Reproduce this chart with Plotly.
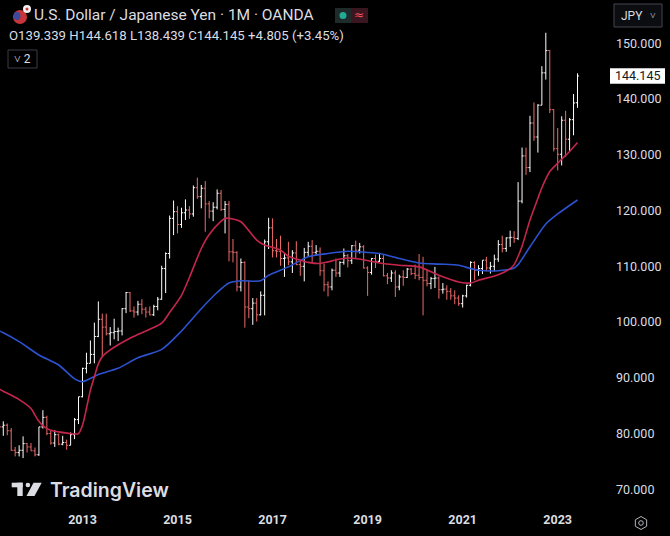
import pandas as pd
import plotly.graph_objects as go

# monthly bars, Apr 2011 .. Jun 2023 (USD/JPY, OANDA)
months = pd.period_range("2011-04", "2023-06", freq="M").strftime("%Y-%m").tolist()

opens = [
    83.1, 81.2, 81.5, 80.5, 77.0, 76.6, 77.0, 78.2, 77.6,
    76.9, 76.2, 81.2, 82.9, 80.0, 78.3, 79.8, 78.1, 78.4, 77.9, 79.8, 82.5,
    86.6, 91.7, 92.6, 94.2, 97.4, 100.5, 99.1, 97.9, 98.1, 98.3, 98.4, 102.4,
    105.3, 102.0, 101.8, 103.2, 102.3, 101.8, 101.3, 102.8, 104.1, 109.6, 112.3, 118.6,
    119.8, 117.5, 119.6, 120.1, 119.4, 124.1, 122.5, 124.0, 121.2, 119.9, 120.6, 123.1,
    120.2, 121.1, 112.6, 112.5, 106.3, 110.7, 102.7, 102.4, 103.4, 101.3, 104.8, 114.4,
    116.9, 112.8, 112.7, 111.4, 111.5, 110.8, 112.4, 110.3, 110.0, 112.5, 113.6, 112.5,
    112.7, 109.2, 106.7, 106.3, 109.3, 108.8, 110.7, 111.9, 111.0, 113.7, 112.9, 113.5,
    109.7, 108.9, 111.4, 110.9, 111.4, 108.3, 107.9, 108.8, 106.3, 108.1, 108.0, 109.5,
    108.7, 108.4, 108.0, 107.5, 106.9, 107.8, 107.9, 105.8, 105.9, 105.5, 104.7, 104.3,
    103.3, 104.7, 106.6, 110.7, 109.3, 109.6, 111.1, 109.7, 110.0, 111.3, 113.9, 113.2,
    115.1, 115.2, 115.0, 121.7, 129.8, 127.7, 135.7, 133.2, 138.9, 144.7, 148.7, 138.1,
    131.1, 130.1, 136.2, 132.8, 136.3, 139.339,
]
highs = [
    85.5, 82.2, 81.8, 81.0, 77.6, 77.9, 79.5, 78.3, 78.3,
    77.5, 81.2, 84.2, 83.2, 80.6, 80.6, 80.0, 79.6, 78.9, 80.2, 82.8, 86.6,
    91.8, 94.5, 96.7, 99.9, 103.7, 101.5, 101.5, 99.1, 100.6, 99.0, 102.5, 105.4,
    105.4, 102.8, 103.8, 104.1, 102.7, 102.8, 103.1, 104.5, 110.1, 112.5, 119.1, 121.8,
    120.8, 120.5, 122.0, 120.8, 124.5, 125.9, 124.6, 125.3, 121.7, 121.5, 123.8, 123.7,
    121.7, 121.7, 114.9, 112.7, 111.4, 110.9, 107.5, 104.3, 104.3, 105.5, 114.8, 118.7,
    118.6, 114.9, 115.5, 112.2, 114.4, 112.9, 114.5, 111.0, 113.3, 114.4, 114.7, 113.8,
    113.4, 110.5, 107.3, 109.6, 111.4, 110.9, 113.2, 112.2, 113.8, 114.6, 114.2, 113.8,
    110.0, 111.5, 112.1, 112.4, 112.0, 108.8, 109.3, 109.3, 108.5, 109.3, 109.7, 109.7,
    110.3, 112.2, 111.7, 109.4, 108.1, 109.9, 108.2, 107.0, 106.6, 106.1, 105.7, 104.8,
    104.9, 106.7, 110.9, 110.9, 110.2, 111.1, 111.7, 110.8, 112.1, 114.7, 115.5, 115.2,
    116.4, 116.3, 125.1, 131.3, 131.3, 137.0, 139.4, 139.1, 145.9, 151.9, 148.8, 138.2,
    134.8, 136.9, 137.9, 136.6, 140.9, 144.618,
]
lows = [
    81.3, 79.6, 79.7, 76.9, 75.9, 75.9, 75.6, 76.6, 76.9,
    75.9, 76.0, 80.9, 79.7, 78.0, 77.6, 77.9, 77.9, 77.1, 77.9, 79.0, 81.7,
    86.5, 90.8, 92.6, 92.6, 97.3, 93.8, 97.6, 95.8, 96.9, 96.6, 97.6, 101.6,
    101.8, 100.8, 101.2, 101.4, 100.8, 101.2, 101.1, 102.1, 104.0, 105.2, 111.4, 115.6,
    115.9, 116.9, 118.3, 118.5, 118.9, 122.1, 120.4, 116.2, 118.6, 118.1, 120.2, 119.9,
    115.9, 110.9, 110.7, 105.5, 105.5, 99.0, 100.7, 99.5, 100.1, 101.2, 101.2, 113.1,
    111.6, 111.6, 110.1, 108.1, 110.2, 108.8, 110.2, 108.3, 107.3, 111.7, 110.8, 111.9,
    108.3, 105.5, 104.6, 105.7, 108.1, 108.1, 110.3, 109.8, 110.4, 111.4, 112.3, 109.6,
    104.7, 108.5, 109.7, 110.8, 108.2, 106.8, 107.2, 104.5, 105.7, 106.5, 107.9, 108.4,
    107.7, 107.5, 101.2, 106.4, 105.9, 106.1, 104.2, 105.1, 104.0, 104.0, 103.2, 102.9,
    102.6, 104.4, 106.4, 107.5, 108.3, 108.6, 109.1, 108.7, 109.1, 110.8, 112.5, 112.6,
    113.5, 114.2, 114.7, 121.3, 126.4, 126.9, 132.5, 130.4, 138.9, 143.5, 137.5, 130.6,
    127.2, 128.1, 129.6, 130.6, 133.5, 138.439,
]
closes = [
    81.2, 81.5, 80.5, 77.0, 76.6, 77.0, 78.2, 77.6, 76.9,
    76.2, 81.2, 82.9, 80.0, 78.3, 79.8, 78.1, 78.4, 77.9, 79.8, 82.5, 86.6,
    91.7, 92.6, 94.2, 97.4, 100.5, 99.1, 97.9, 98.1, 98.3, 98.4, 102.4, 105.3,
    102.0, 101.8, 103.2, 102.3, 101.8, 101.3, 102.8, 104.1, 109.6, 112.3, 118.6, 119.8,
    117.5, 119.6, 120.1, 119.4, 124.1, 122.5, 124.0, 121.2, 119.9, 120.6, 123.1, 120.2,
    121.1, 112.6, 112.5, 106.3, 110.7, 102.7, 102.4, 103.4, 101.3, 104.8, 114.4, 116.9,
    112.8, 112.7, 111.4, 111.5, 110.8, 112.4, 110.3, 110.0, 112.5, 113.6, 112.5, 112.7,
    109.2, 106.7, 106.3, 109.3, 108.8, 110.7, 111.9, 111.0, 113.7, 112.9, 113.5, 109.7,
    108.9, 111.4, 110.9, 111.4, 108.3, 107.9, 108.8, 106.3, 108.1, 108.0, 109.5, 108.7,
    108.4, 108.0, 107.5, 106.9, 107.8, 107.9, 105.8, 105.9, 105.5, 104.7, 104.3, 103.3,
    104.7, 106.6, 110.7, 109.3, 109.6, 111.1, 109.7, 110.0, 111.3, 113.9, 113.2, 115.1,
    115.2, 115.0, 121.7, 129.8, 127.7, 135.7, 133.2, 138.9, 144.7, 148.7, 138.1, 131.1,
    130.1, 136.2, 132.8, 136.3, 139.3, 144.145,
]

# moving averages at these months
ma_red_months = [
    "2011-04", "2011-05", "2011-09", "2011-12", "2012-01", "2012-02", "2012-03",
    "2012-05", "2012-07", "2012-10", "2012-12", "2013-01", "2013-02", "2013-03",
    "2013-04", "2013-05", "2013-06", "2013-08", "2014-01", "2014-06", "2014-09",
    "2014-11", "2015-02", "2015-04", "2015-07", "2015-09", "2015-12", "2016-01",
    "2016-03", "2016-05", "2016-07", "2016-09", "2016-11", "2016-12", "2017-03",
    "2017-05", "2017-08", "2017-10", "2018-01", "2018-03", "2018-06", "2018-08",
    "2018-11", "2019-04", "2019-09", "2020-02", "2020-07", "2020-12", "2021-03",
    "2021-05", "2021-10", "2022-01", "2022-02", "2022-03", "2022-04", "2022-06",
    "2022-08", "2022-09", "2022-11", "2023-01", "2023-04", "2023-06",
]
ma_red_values = [
    88.0, 87.6, 86.1, 84.5, 83.3, 82.2, 81.4,
    80.6, 80.3, 80.0, 80.0, 81.5, 84.5, 87.8,
    90.2, 92.5, 93.8, 95.0, 97.1, 98.7, 99.8,
    101.7, 104.8, 108.0, 113.2, 115.7, 118.1, 118.6,
    118.5, 118.0, 116.4, 114.7, 113.8, 113.6, 112.9,
    111.8, 111.1, 110.7, 110.5, 110.8, 111.3, 111.5,
    111.3, 110.6, 110.2, 109.9, 108.4, 107.2, 107.0,
    107.5, 108.5, 109.6, 110.3, 111.8, 113.6, 118.3,
    122.2, 124.1, 127.0, 128.5, 130.6, 132.2,
]
ma_blue_months = [
    "2011-04", "2011-05", "2011-09", "2012-02", "2012-07", "2012-11", "2013-01",
    "2013-05", "2013-10", "2014-03", "2014-09", "2015-02", "2015-07", "2015-11",
    "2016-02", "2016-05", "2016-10", "2016-12", "2017-05", "2017-10", "2018-03",
    "2018-08", "2018-11", "2019-04", "2019-09", "2020-02", "2020-07", "2020-12",
    "2021-03", "2021-05", "2021-10", "2022-02", "2022-03", "2022-06", "2022-10",
    "2023-01", "2023-06",
]
ma_blue_values = [
    98.4, 98.1, 96.5, 94.1, 92.3, 89.8, 89.3,
    90.6, 91.7, 93.6, 95.1, 98.4, 102.4, 105.3,
    107.0, 107.4, 107.4, 108.4, 109.9, 111.7, 112.3,
    112.7, 112.6, 112.3, 111.4, 110.6, 110.4, 110.2,
    109.6, 109.3, 109.2, 109.7, 110.3, 113.5, 117.6,
    119.4, 121.9,
]

year_ticks = ["2013", "2015", "2017", "2019", "2021", "2023"]
last_close = 144.145

BG = "#000000"
TXT = "#dcdde0"
UP = "#ffffff"
DOWN = "#ec6b69"

W_PLOT, H_PLOT = 607, 510


def px(x):
    return x / W_PLOT


def py(y):
    return (H_PLOT - y) / H_PLOT


pos = {m: i for i, m in enumerate(months)}

fig = go.Figure()
fig.add_trace(
    go.Ohlc(
        x=list(range(len(months))),
        open=opens, high=highs, low=lows, close=closes,
        increasing=dict(line=dict(color=UP, width=1)),
        decreasing=dict(line=dict(color=DOWN, width=1)),
        tickwidth=0.4,
        hoverinfo="skip",
    )
)
fig.add_trace(
    go.Scatter(
        x=[pos[m] for m in ma_blue_months], y=ma_blue_values, mode="lines",
        line=dict(color="#2d52d0", width=1.6, shape="spline", smoothing=0.7),
        hoverinfo="skip",
    )
)
fig.add_trace(
    go.Scatter(
        x=[pos[m] for m in ma_red_months], y=ma_red_values, mode="lines",
        line=dict(color="#c4264c", width=1.6, shape="spline", smoothing=0.7),
        hoverinfo="skip",
    )
)

shapes = []
annotations = []

# header: flag icon
shapes += [
    dict(type="circle", xref="paper", yref="paper", x0=px(13), x1=px(27), y0=py(24), y1=py(10),
         fillcolor="#c7343a", line=dict(width=0)),
    dict(type="circle", xref="paper", yref="paper", x0=px(13.5), x1=px(20.5), y0=py(20), y1=py(12),
         fillcolor="#3b4a9c", line=dict(width=0)),
    dict(type="circle", xref="paper", yref="paper", x0=px(23), x1=px(31), y0=py(13), y1=py(5),
         fillcolor="#f2f2f2", line=dict(width=0)),
    dict(type="circle", xref="paper", yref="paper", x0=px(25.5), x1=px(28.5), y0=py(10.5), y1=py(7.5),
         fillcolor="#d0343a", line=dict(width=0)),
]
annotations.append(dict(
    text="U.S. Dollar / Japanese Yen · 1M · OANDA", xref="paper", yref="paper",
    x=px(32), y=py(15), xanchor="left", yanchor="middle", showarrow=False,
    font=dict(family="Roboto", size=15.5, color=TXT),
))
# status pill
shapes += [
    dict(type="rect", xref="paper", yref="paper", x0=px(335), x1=px(351), y0=py(23), y1=py(8),
         fillcolor="#1f2a2a", line=dict(width=0)),
    dict(type="rect", xref="paper", yref="paper", x0=px(351), x1=px(368), y0=py(23), y1=py(8),
         fillcolor="#3a1620", line=dict(width=0)),
    dict(type="circle", xref="paper", yref="paper", x0=px(339.5), x1=px(346.5), y0=py(19), y1=py(12),
         fillcolor="#22ab94", line=dict(width=0)),
]
annotations.append(dict(
    text="≈", xref="paper", yref="paper", x=px(359), y=py(15), showarrow=False,
    xanchor="center", yanchor="middle", font=dict(family="DejaVu Sans", size=12, color="#f7525f"),
))
annotations.append(dict(
    text="O139.339 H144.618 L138.439 C144.145 +4.805 (+3.45%)", xref="paper", yref="paper",
    x=px(7), y=py(36), xanchor="left", yanchor="middle", showarrow=False,
    font=dict(family="Roboto", size=13.2, color=TXT),
))
# collapse button
shapes.append(dict(type="rect", xref="paper", yref="paper", x0=px(8), x1=px(37), y0=py(68), y1=py(50),
                   line=dict(color="#3a3d46", width=1)))
annotations.append(dict(
    text="˅ 2", xref="paper", yref="paper", x=px(22.5), y=py(59), showarrow=False,
    xanchor="center", yanchor="middle", font=dict(family="Roboto", size=12, color=TXT),
))
# currency button
shapes.append(dict(type="rect", xref="paper", yref="paper", x0=px(614), x1=px(662), y0=py(27), y1=py(4),
                   fillcolor="#0c0d10", line=dict(color="#434651", width=1)))
annotations.append(dict(
    text="JPY", xref="paper", yref="paper", x=px(619), y=py(15.5), showarrow=False,
    xanchor="left", yanchor="middle", font=dict(family="Roboto", size=12, color=TXT),
))
annotations.append(dict(
    text="˅", xref="paper", yref="paper", x=px(653), y=py(15.5), showarrow=False,
    xanchor="center", yanchor="middle", font=dict(family="Roboto", size=10, color=TXT),
))
# last price label
shapes.append(dict(type="rect", xref="paper", yref="y", x0=px(610), x1=px(665),
                   y0=last_close - 1.4, y1=last_close + 1.4, fillcolor="#ffffff", line=dict(width=0)))
annotations.append(dict(
    text=f"{last_close:.3f}", xref="paper", yref="y", x=px(637.5), y=last_close, showarrow=False,
    xanchor="center", yanchor="middle", font=dict(family="Roboto", size=12.5, color="#131722"),
))
# TradingView logo
LOGO = "#dcdde2"
shapes += [
    dict(type="rect", xref="paper", yref="paper", x0=px(11.7), x1=px(22.7), y0=py(487.3), y1=py(482.7),
         fillcolor=LOGO, line=dict(width=0)),
    dict(type="rect", xref="paper", yref="paper", x0=px(17.3), x1=px(22.7), y0=py(496), y1=py(482.7),
         fillcolor=LOGO, line=dict(width=0)),
    dict(type="circle", xref="paper", yref="paper", x0=px(25.6), x1=px(30.2), y0=py(487.3), y1=py(482.7),
         fillcolor=LOGO, line=dict(width=0)),
    dict(type="path", xref="paper", yref="paper",
         path=f"M {px(33.5)},{py(482.7)} L {px(41.7)},{py(482.7)} L {px(34.5)},{py(496)} "
              f"L {px(26.5)},{py(496)} Z",
         fillcolor=LOGO, line=dict(width=0)),
]
annotations.append(dict(
    text="TradingView", xref="paper", yref="paper", x=px(48), y=py(489.5), showarrow=False,
    xanchor="left", yanchor="middle", font=dict(family="Inter", size=19.5, color=LOGO, weight=600),
))
# settings icon (hexagon)
cx, cy, r = 641, 523, 6.5
hexpts = [(cx, cy - r), (cx + 0.87 * r, cy - r / 2), (cx + 0.87 * r, cy + r / 2),
          (cx, cy + r), (cx - 0.87 * r, cy + r / 2), (cx - 0.87 * r, cy - r / 2)]
hexpath = "M " + " L ".join(f"{px(a)},{py(b)}" for a, b in hexpts) + " Z"
shapes += [
    dict(type="path", xref="paper", yref="paper", path=hexpath, line=dict(color="#b2b5be", width=1)),
    dict(type="circle", xref="paper", yref="paper", x0=px(cx - 2.3), x1=px(cx + 2.3),
         y0=py(cy + 2.3), y1=py(cy - 2.3), line=dict(color="#b2b5be", width=1)),
]

fig.update_layout(
    width=670,
    height=536,
    margin=dict(l=0, r=63, t=0, b=26),
    paper_bgcolor=BG,
    plot_bgcolor=BG,
    showlegend=False,
    hovermode=False,
    shapes=shapes,
    annotations=annotations,
)
fig.update_xaxes(
    range=[0.17, 153.45],
    tickvals=[pos[y + "-01"] for y in year_ticks],
    ticktext=year_ticks,
    tickfont=dict(family="Roboto", size=12.5, color=TXT, weight="bold"),
    showgrid=False, zeroline=False, showline=False, ticks="",
    rangeslider=dict(visible=False),
    fixedrange=True,
)
fig.update_yaxes(
    range=[66.29, 157.77],
    side="right",
    tick0=0, dtick=10,
    tickformat=".3f",
    tickfont=dict(family="Roboto", size=12.5, color=TXT),
    ticklabelstandoff=8,
    showgrid=False, zeroline=False, showline=False, ticks="",
    fixedrange=True,
)

# drop the page's default body margin so the figure sits at the window origin
fig.write_html(
    "out.html",
    config={"displayModeBar": False},
    post_script="document.body.style.margin='0px';document.body.style.background='#000';",
)
